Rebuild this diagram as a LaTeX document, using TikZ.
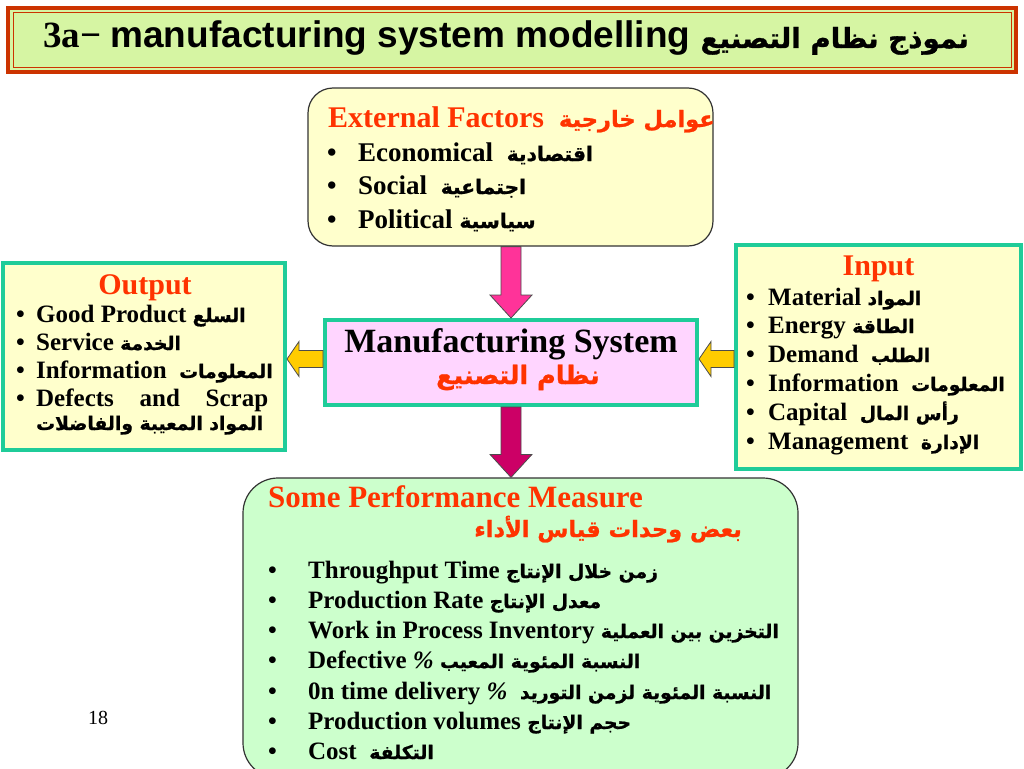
\documentclass[tikz,border=0pt]{standalone}
\usepackage{fontspec}
\setmainfont{Liberation Serif}
\newfontfamily\titlefont{Liberation Sans}
\newfontfamily\arfont[Script=Arabic,FakeBold=1,Scale=0.75]{DejaVu Sans}
\TeXXeTstate=1
\usetikzlibrary{calc}
\definecolor{titlegreen}{HTML}{D6F5A3}
\definecolor{titlered}{HTML}{CC3300}
\definecolor{boxyellow}{HTML}{FFFFCC}
\definecolor{boxteal}{HTML}{1FCC99}
\definecolor{boxpink}{HTML}{FFD5FF}
\definecolor{boxgreen}{HTML}{CCFFCC}
\definecolor{headred}{HTML}{FF3300}
\definecolor{arrowpink}{HTML}{FF3399}
\definecolor{arrowplum}{HTML}{CC0066}
\definecolor{arrowgold}{HTML}{FFCC00}
\newcommand\AR[1]{{\arfont\beginR #1\endR}}

\begin{document}
\begin{tikzpicture}[x=1pt, y=-1pt,
    txt/.style={anchor=base west, inner sep=0pt},
    headfont/.style={font=\bfseries\fontsize{30}{34}\selectfont, text=headred},
    itemfont/.style={font=\bfseries\fontsize{25}{30}\selectfont},
    roundbox/.style={draw=black!80, line width=1.2pt, rounded corners=25pt},
    tealbox/.style={draw=boxteal, line width=4pt},
    blockarrow/.style={draw=black!70, line width=0.8pt}
    ]
\useasboundingbox (0,0) rectangle (1024,768);
% title bar
\node[draw=titlered, fill=titlegreen, line width=4pt, minimum width=1008pt, minimum height=64pt] (title) at (512,40) {};
\draw[titlered, line width=1pt] ($(title.north west)+(7,7)$) rectangle ($(title.south east)+(-7,-7)$);
\node[txt, font=\bfseries\fontsize{37}{40}\selectfont] (titletext) at (43,48) {3a−\ {\titlefont manufacturing system modelling \AR{نموذج نظام التصنيع}}};

% boxes
\node[roundbox, fill=boxyellow, minimum width=405pt, minimum height=158pt] (ext) at (510.5,167) {};
\node[tealbox, fill=boxyellow, minimum width=282pt, minimum height=187pt] (out) at (144,356.5) {};
\node[tealbox, fill=boxyellow, minimum width=285pt, minimum height=224pt] (inp) at (878.5,357) {};
\node[tealbox, fill=boxpink, minimum width=372pt, minimum height=85pt] (sys) at (511,362.5) {};
\node[roundbox, fill=boxgreen, rounded corners=35pt, minimum width=555pt, minimum height=300pt] (perf) at (520.5,628) {};

% external factors
\node[txt, headfont] (exthead) at (328,127) {External Factors\ \ \AR{عوامل خارجية}};
\node[txt, itemfont, font=\bfseries\fontsize{27}{30}\selectfont] (ext1) at (327,161) {\makebox[31pt][l]{\textbullet}Economical\ \ \AR{اقتصادية}};
\node[txt, itemfont, font=\bfseries\fontsize{27}{30}\selectfont] (ext2) at (327,194) {\makebox[31pt][l]{\textbullet}Social\ \ \AR{اجتماعية}};
\node[txt, itemfont, font=\bfseries\fontsize{27}{30}\selectfont] (ext3) at (327,228) {\makebox[31pt][l]{\textbullet}Political \AR{سياسية}};

% output
\node[headfont, inner sep=0pt, anchor=base] (outhead) at (145,294) {Output};
\node[txt, itemfont] (out1) at (16,322) {\makebox[20pt][l]{\textbullet}Good Product \AR{السلع}};
\node[txt, itemfont] (out2) at (16,350) {\makebox[20pt][l]{\textbullet}Service \AR{الخدمة}};
\node[txt, itemfont] (out3) at (16,378) {\makebox[20pt][l]{\textbullet}Information\ \ \AR{المعلومات}};
\node[txt, itemfont] (out4) at (16,406) {\makebox[20pt][l]{\textbullet}\makebox[232pt][s]{Defects and Scrap}};
\node[txt, itemfont] (out5) at (36,430) {\AR{المواد المعيبة والفاضلات}};

% input
\node[headfont, inner sep=0pt, anchor=base] (inphead) at (878.5,275) {Input};
\node[txt, itemfont] (inp1) at (746,305) {\makebox[22pt][l]{\textbullet}Material \AR{المواد}};
\node[txt, itemfont] (inp2) at (746,333) {\makebox[22pt][l]{\textbullet}Energy \AR{الطاقة}};
\node[txt, itemfont] (inp3) at (746,362) {\makebox[22pt][l]{\textbullet}Demand\ \ \AR{الطلب}};
\node[txt, itemfont] (inp4) at (746,391) {\makebox[22pt][l]{\textbullet}Information\ \ \AR{المعلومات}};
\node[txt, itemfont] (inp5) at (746,420) {\makebox[22pt][l]{\textbullet}Capital\ \ \AR{رأس المال}};
\node[txt, itemfont] (inp6) at (746,449) {\makebox[22pt][l]{\textbullet}Management\ \ \AR{الإدارة}};

% manufacturing system
\node[inner sep=0pt, anchor=base, font=\bfseries\fontsize{34}{38}\selectfont] (systext) at (511,352) {Manufacturing System};
\node[inner sep=0pt, anchor=base, font=\bfseries\fontsize{34}{38}\selectfont, text=headred] (sysar) at (518,384) {\AR{نظام التصنيع}};

% performance measures
\node[txt, headfont, font=\bfseries\fontsize{31}{34}\selectfont] (perfhead) at (268,507) {Some Performance Measure};
\node[inner sep=0pt, anchor=base east, headfont] (perfar) at (742,537) {\AR{بعض وحدات قياس الأداء}};
\node[txt, itemfont] (perf1) at (268,578) {\makebox[40pt][l]{\textbullet}Throughput Time \AR{زمن خلال الإنتاج}};
\node[txt, itemfont] (perf2) at (268,608) {\makebox[40pt][l]{\textbullet}Production Rate \AR{معدل الإنتاج}};
\node[txt, itemfont] (perf3) at (268,638) {\makebox[40pt][l]{\textbullet}Work in Process Inventory \AR{التخزين بين العملية}};
\node[txt, itemfont] (perf4) at (268,668) {\makebox[40pt][l]{\textbullet}Defective \textit{\%} \AR{النسبة المئوية المعيب}};
\node[txt, itemfont] (perf5) at (268,699) {\makebox[40pt][l]{\textbullet}0n time delivery \textit{\%}\ \ \AR{النسبة المئوية لزمن التوريد}};
\node[txt, itemfont] (perf6) at (268,729) {\makebox[40pt][l]{\textbullet}Production volumes \AR{حجم الإنتاج}};
\node[txt, itemfont] (perf7) at (268,759) {\makebox[40pt][l]{\textbullet}Cost\ \ \AR{التكلفة}};

\node[txt, font=\fontsize{20}{24}\selectfont] (pagenum) at (88,724) {18};

% block arrows
\draw[blockarrow, fill=arrowpink] ($(ext.south -| sys.north)+(-10,0)$) -- ($(sys.north)+(-10,-23)$) -- ($(sys.north)+(-21,-23)$) -- (sys.north) -- ($(sys.north)+(21,-23)$) -- ($(sys.north)+(10,-23)$) -- ($(ext.south -| sys.north)+(10,0)$) -- cycle;
\draw[blockarrow, fill=arrowplum] ($(sys.south)+(-10,0)$) -- ($(perf.north -| sys.south)+(-10,-23)$) -- ($(perf.north -| sys.south)+(-21,-23)$) -- (perf.north -| sys.south) -- ($(perf.north -| sys.south)+(21,-23)$) -- ($(perf.north -| sys.south)+(10,-23)$) -- ($(sys.south)+(10,0)$) -- cycle;
\draw[blockarrow, fill=arrowgold] ($(sys.west)+(0,-12)$) -- ($(out.east |- sys.west)+(12,-12)$) -- ($(out.east |- sys.west)+(12,-21)$) -- ($(out.east |- sys.west)+(0,-3.5)$) -- ($(out.east |- sys.west)+(12,14)$) -- ($(out.east |- sys.west)+(12,5)$) -- ($(sys.west)+(0,5)$) -- cycle;
\draw[blockarrow, fill=arrowgold] ($(inp.west |- sys.east)+(0,-12)$) -- ($(sys.east)+(12,-12)$) -- ($(sys.east)+(12,-21)$) -- ($(sys.east)+(0,-3.5)$) -- ($(sys.east)+(12,14)$) -- ($(sys.east)+(12,5)$) -- ($(inp.west |- sys.east)+(0,5)$) -- cycle;
\end{tikzpicture}
\end{document}
